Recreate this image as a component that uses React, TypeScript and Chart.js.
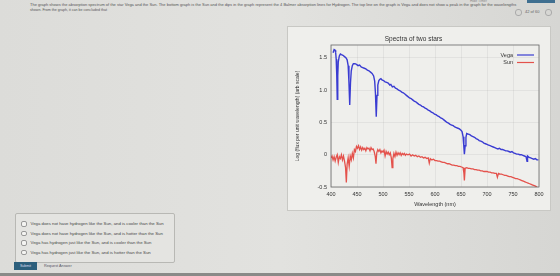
import React, { useEffect, useRef } from "react";
import { Chart, registerables } from "chart.js";

Chart.register(...registerables);

const chartTitle = "Spectra of two stars";
const xAxisTitle = "Wavelength (nm)";
const yAxisTitle = "Log (flux per unit wavelength) (arb scale)";
const seriesNames = ["Vega", "Sun"];
const xTicks = [400, 450, 500, 550, 600, 650, 700, 750, 800];
const yTicks = [-0.5, 0, 0.5, 1, 1.5];

const vegaWavelength = [
  404, 406, 408, 409, 410, 411, 412, 413, 414, 416, 418, 420, 423, 426, 429, 431, 433, 434.5, 436, 437.5,
  439, 441, 443, 446, 449, 452, 455, 458, 461, 464, 467, 470, 473, 476, 479, 482, 484, 485.5, 487, 488.5,
  490, 492, 494, 496, 498, 501, 504, 507, 510, 513, 515, 518, 521, 524, 527, 530, 533, 536, 539, 542,
  545, 548, 551, 554, 557, 560, 563, 566, 569, 572, 575, 578, 581, 584, 587, 590, 593, 596, 599, 602,
  605, 608, 611, 614, 617, 620, 623, 626, 629, 632, 635, 638, 641, 644, 647, 650, 652, 654, 655.5, 656.5,
  658, 659.5, 661, 664, 667, 670, 673, 676, 679, 682, 685, 688, 691, 694, 697, 700, 703, 706, 709, 712,
  715, 718, 721, 724, 727, 730, 733, 736, 739, 742, 745, 748, 751, 754, 757, 760, 763, 766, 769, 772,
  775, 777, 778, 781, 784, 787, 790, 793, 796, 799,
];
const vegaFlux = [
  1.58, 1.63, 1.62, 1.58, 1.48, 1.25, 0.86, 1.22, 1.44, 1.53, 1.56, 1.55, 1.54, 1.52, 1.5, 1.47, 1.38, 1.12, 0.77, 1.12,
  1.3, 1.38, 1.41, 1.41, 1.4, 1.38, 1.39, 1.36, 1.35, 1.34, 1.33, 1.31, 1.3, 1.28, 1.26, 1.22, 1.14, 0.95, 0.59, 0.92,
  1.08, 1.15, 1.17, 1.18, 1.16, 1.15, 1.13, 1.12, 1.11, 1.08, 1.09, 1.05, 1.06, 1.03, 1.02, 1.0, 0.99, 0.97, 0.96, 0.94,
  0.92, 0.9, 0.88, 0.87, 0.85, 0.83, 0.82, 0.8, 0.78, 0.77, 0.75, 0.74, 0.72, 0.71, 0.69, 0.68, 0.66, 0.65, 0.63, 0.62,
  0.6, 0.59, 0.57, 0.56, 0.54, 0.52, 0.5, 0.49, 0.47, 0.46, 0.45, 0.43, 0.42, 0.41, 0.4, 0.38, 0.36, 0.28, 0.12, 0.01,
  0.14, 0.27, 0.33, 0.32, 0.31, 0.29, 0.28, 0.27, 0.25, 0.24, 0.22, 0.21, 0.2, 0.18, 0.17, 0.16, 0.15, 0.14, 0.13, 0.12,
  0.11, 0.1, 0.09, 0.1, 0.08, 0.08, 0.07, 0.06, 0.06, 0.05, 0.04, 0.05, 0.03, 0.02, 0.01, 0.01, 0.0, 0.0, -0.01, -0.02,
  -0.03, -0.1, -0.02, -0.04, -0.05, -0.06, -0.07, -0.06, -0.08, -0.08,
];

const sunWavelength = [
  400, 402, 404, 406, 408, 410, 412, 414, 416, 418, 420, 422, 424, 426, 428, 429.5, 431, 433, 435, 437,
  439, 441, 443, 445, 447, 449, 451, 453, 455, 457, 459, 461, 463, 465, 467, 469, 471, 473, 475, 477,
  479, 481, 483, 485, 486.5, 488, 490, 492, 494, 496, 498, 500, 502, 504, 506, 508, 510, 512, 514, 516,
  517.5, 519, 521, 523, 525, 527, 529, 531, 533, 535, 537, 539, 541, 543, 545, 548, 551, 554, 557, 560,
  563, 566, 569, 572, 575, 578, 581, 584, 587, 589, 591, 594, 597, 600, 603, 606, 609, 612, 615, 618,
  621, 624, 627, 630, 633, 636, 639, 642, 645, 648, 651, 654, 655.5, 656.5, 658, 661, 664, 667, 670, 673,
  676, 679, 682, 685, 688, 691, 694, 697, 700, 703, 706, 709, 712, 715, 718, 720, 722, 725, 728, 731,
  734, 737, 740, 743, 746, 749, 752, 755, 758, 761, 764, 767, 770, 773, 776, 779, 782, 785, 788, 791,
  794, 797, 800,
];
const sunFlux = [
  -0.05, -0.02, -0.08, -0.03, -0.1, -0.04, 0.0, -0.12, -0.03, -0.06, 0.0, -0.08, -0.02, -0.1, -0.2, -0.43, -0.15, -0.05, -0.18, -0.02,
  -0.08, 0.02, -0.05, 0.08, 0.05, 0.13, 0.1, 0.14, 0.08, 0.12, 0.07, 0.11, 0.08, 0.1, 0.06, 0.11, 0.09, 0.1, 0.06, 0.11,
  0.08, 0.09, 0.05, -0.02, -0.14, 0.03, 0.08, 0.05, 0.08, 0.03, 0.06, 0.04, 0.07, -0.02, 0.05, 0.01, 0.04, 0.0, 0.03, -0.05,
  -0.2, -0.06, 0.02, -0.03, 0.04, -0.01, 0.03, 0.0, 0.03, -0.01, 0.02, 0.0, 0.02, -0.01, 0.01, 0.0, 0.01, -0.02, 0.0, -0.02,
  -0.01, -0.03, -0.02, -0.04, -0.03, -0.05, -0.04, -0.06, -0.05, -0.13, -0.06, -0.08, -0.07, -0.09, -0.09, -0.1, -0.1, -0.11, -0.12, -0.12,
  -0.13, -0.14, -0.14, -0.15, -0.16, -0.16, -0.17, -0.17, -0.18, -0.18, -0.19, -0.2, -0.28, -0.4, -0.21, -0.2, -0.21, -0.21, -0.22, -0.22,
  -0.23, -0.23, -0.24, -0.24, -0.25, -0.25, -0.26, -0.26, -0.26, -0.27, -0.27, -0.28, -0.28, -0.29, -0.29, -0.35, -0.29, -0.3, -0.3, -0.31,
  -0.32, -0.32, -0.33, -0.34, -0.34, -0.35, -0.36, -0.37, -0.37, -0.38, -0.39, -0.4, -0.41, -0.42, -0.43, -0.44, -0.45, -0.46, -0.47, -0.48,
  -0.49, -0.51, -0.52,
];

const questionText =
  "The graph shows the absorption spectrum of the star Vega and the Sun. The bottom graph is the Sun and the dips in the graph represent the 4 Balmer absorption lines for Hydrogen. The top line on the graph is Vega and does not show a peak in the graph for the wavelengths";
const questionText2 = "shown. From the graph, it can be concluded that";
const answerOptions = [
  "Vega does not have hydrogen like the Sun, and is cooler than the Sun",
  "Vega does not have hydrogen like the Sun, and is hotter than the Sun",
  "Vega has hydrogen just like the Sun, and is cooler than the Sun",
  "Vega has hydrogen just like the Sun, and is hotter than the Sun",
];

const BLUE = "#3a3cd2";
const RED = "#e4524c";
const FONT = "'Liberation Sans', Arial, sans-serif";

const frameAndLegend = {
  id: "frameAndLegend",
  afterDatasetsDraw(chart: any) {
    const { ctx, chartArea } = chart;
    ctx.save();
    ctx.strokeStyle = "#666";
    ctx.lineWidth = 0.8;
    ctx.strokeRect(chartArea.left, chartArea.top, chartArea.right - chartArea.left, chartArea.bottom - chartArea.top);
    ctx.font = `5.5px ${FONT}`;
    ctx.textAlign = "right";
    ctx.textBaseline = "middle";
    chart.data.datasets.forEach((ds: any, i: number) => {
      const y = chartArea.top + 10 + i * 7.5;
      ctx.fillStyle = "#333";
      ctx.fillText(ds.label, chartArea.right - 26, y);
      ctx.strokeStyle = ds.borderColor;
      ctx.lineWidth = 1.2;
      ctx.beginPath();
      ctx.moveTo(chartArea.right - 22, y);
      ctx.lineTo(chartArea.right - 5, y);
      ctx.stroke();
    });
    ctx.restore();
  },
};

function ChartPanel() {
  const ref = useRef<HTMLCanvasElement>(null);
  useEffect(() => {
    if (!ref.current) return;
    const toPts = (xs: number[], ys: number[]) => xs.map((x, i) => ({ x, y: ys[i] }));
    const chart = new Chart(ref.current, {
      type: "line",
      data: {
        datasets: [
          {
            label: seriesNames[0],
            data: toPts(vegaWavelength, vegaFlux),
            borderColor: BLUE,
            borderWidth: 1.4,
            pointRadius: 0,
            tension: 0,
          },
          {
            label: seriesNames[1],
            data: toPts(sunWavelength, sunFlux),
            borderColor: RED,
            borderWidth: 1.3,
            pointRadius: 0,
            tension: 0,
          },
        ],
      },
      options: {
        animation: false,
        responsive: false,
        maintainAspectRatio: false,
        layout: { padding: { top: 0, right: 11, left: 0, bottom: 0 } },
        plugins: {
          legend: { display: false },
          tooltip: { enabled: false },
          title: {
            display: true,
            text: chartTitle,
            color: "#333",
            font: { family: FONT, size: 6.5, weight: "normal" },
            padding: { top: 8, bottom: 2.2 },
          },
        },
        scales: {
          x: {
            type: "linear",
            min: 400,
            max: 800,
            afterBuildTicks: (s: any) => {
              s.ticks = xTicks.map((v) => ({ value: v }));
            },
            afterFit: (s: any) => {
              s.height = 23;
            },
            ticks: { color: "#333", font: { family: FONT, size: 5.5 }, padding: 4, maxRotation: 0 },
            grid: { color: "rgba(0,0,0,0.09)", lineWidth: 0.6, drawTicks: false },
            border: { display: false },
            title: {
              display: true,
              text: xAxisTitle,
              color: "#333",
              font: { family: FONT, size: 5.5 },
              padding: { top: 0, bottom: 2 },
            },
          },
          y: {
            type: "linear",
            min: -0.5,
            max: 1.7,
            afterBuildTicks: (s: any) => {
              s.ticks = yTicks.map((v) => ({ value: v }));
            },
            afterFit: (s: any) => {
              s.width = 43;
            },
            ticks: { color: "#333", font: { family: FONT, size: 5.5 }, padding: 4 },
            grid: { color: "rgba(0,0,0,0.09)", lineWidth: 0.6, drawTicks: false },
            border: { display: false },
            title: {
              display: true,
              text: yAxisTitle,
              color: "#333",
              font: { family: FONT, size: 5 },
              padding: { top: 7, bottom: 0 },
            },
          },
        },
      },
      plugins: [frameAndLegend],
    } as any);
    return () => chart.destroy();
  }, []);
  return <canvas ref={ref} width={262} height={183} style={{ width: 262, height: 183, display: "block" }} />;
}

export default function App() {
  return (
    <div
      style={{
        position: "fixed",
        left: 0,
        top: 0,
        width: 560,
        height: 276,
        overflow: "hidden",
        background: "linear-gradient(90deg, #dcdcd9 0%, #e2e2df 50%, #d6d6d3 100%)",
        fontFamily: FONT,
      }}
    >
      <div style={{ position: "absolute", left: 470, top: -1, fontSize: 3.5, color: "#888" }}>Hide Timer</div>
      <div style={{ position: "absolute", left: 527, top: 0, width: 28, height: 3, background: "#3f6f90" }} />
      <div style={{ position: "absolute", left: 30, top: 3, width: 500, fontSize: 4, lineHeight: "4.8px", color: "#555", whiteSpace: "nowrap" }}>
        <div>{questionText}</div>
        <div style={{ fontSize: 3.6 }}>{questionText2}</div>
      </div>
      <div style={{ position: "absolute", left: 515, top: 9, width: 5, height: 5, borderRadius: 3, border: "0.5px solid #aaa" }} />
      <div style={{ position: "absolute", left: 525, top: 9, fontSize: 4, color: "#666" }}>42 of 60</div>
      <div style={{ position: "absolute", left: 545, top: 9, width: 5, height: 5, borderRadius: 3, border: "0.5px solid #aaa" }} />
      <div
        style={{
          position: "absolute",
          left: 288,
          top: 27,
          width: 262,
          height: 183,
          background: "#efefec",
          outline: "0.6px solid #c8c8c4",
        }}
      >
        <ChartPanel />
      </div>
      <div
        style={{
          position: "absolute",
          left: 15,
          top: 213,
          width: 158,
          height: 48,
          border: "0.6px solid #b8b8b4",
          borderRadius: 2,
          background: "#e4e4e1",
        }}
      >
        {answerOptions.map((t, i) => (
          <div key={i} style={{ position: "absolute", left: 5, top: 7 + i * 9.6, display: "flex", alignItems: "center" }}>
            <div style={{ width: 3.5, height: 3.5, borderRadius: 2, border: "0.5px solid #999", background: "#f4f4f2" }} />
            <div style={{ marginLeft: 4, fontSize: 4.3, color: "#444", whiteSpace: "nowrap" }}>{t}</div>
          </div>
        ))}
      </div>
      <div
        style={{
          position: "absolute",
          left: 14,
          top: 262,
          width: 23,
          height: 8,
          background: "#2c5f7c",
          color: "#dde",
          fontSize: 3.6,
          textAlign: "center",
          lineHeight: "8px",
        }}
      >
        Submit
      </div>
      <div style={{ position: "absolute", left: 44, top: 264, fontSize: 3.8, color: "#556" }}>Request Answer</div>
      <div style={{ position: "absolute", left: 0, top: 273, width: 560, height: 3, background: "#8a8a88" }} />
    </div>
  );
}
